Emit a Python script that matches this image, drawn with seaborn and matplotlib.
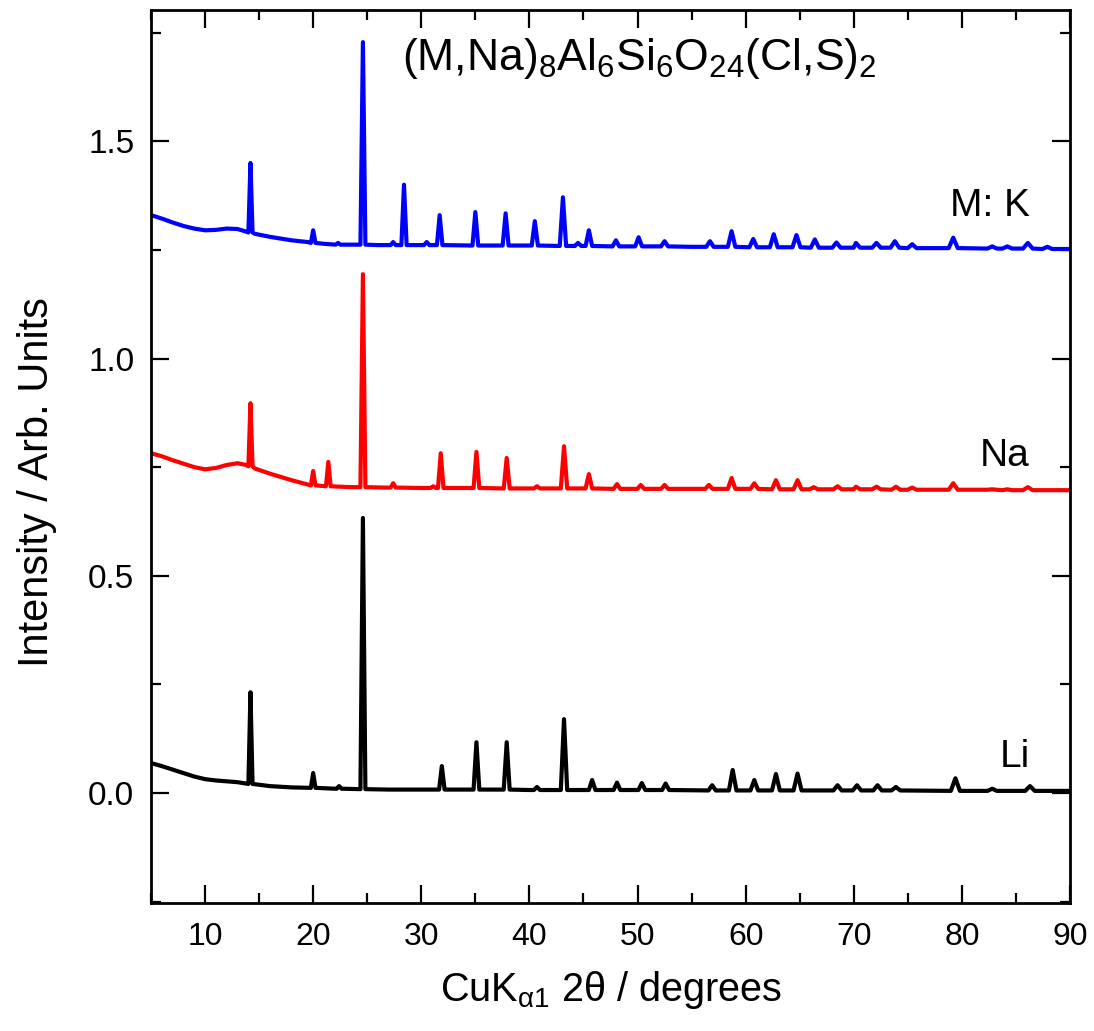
import matplotlib
matplotlib.use("Agg")
import matplotlib.pyplot as plt
import seaborn as sns
import pandas as pd
from matplotlib.ticker import MultipleLocator, FormatStrFormatter

# ---------------- data ----------------
samples = ["M: K", "Na", "Li"]
colors = {"M: K": "#0000FF", "Na": "#FF0000", "Li": "#000000"}

# broad background of each pattern (2theta, intensity)
k_base_x = [5, 6, 7, 8, 9, 10, 11, 12, 13, 13.8, 14.6, 16, 18, 19.5, 21, 23, 26, 30, 40, 55, 70, 80, 90]
k_base_y = [1.330, 1.322, 1.313, 1.305, 1.299, 1.295, 1.296, 1.299, 1.298, 1.292, 1.287, 1.280,
            1.272, 1.268, 1.264, 1.262, 1.261, 1.261, 1.260, 1.257, 1.255, 1.254, 1.252]
na_base_x = [5, 6, 7, 8, 9, 10, 11, 12, 13, 13.8, 14.6, 16, 18, 19.5, 22.5, 23.5, 26.5, 30, 40, 55, 70, 80, 90]
na_base_y = [0.782, 0.775, 0.766, 0.758, 0.750, 0.745, 0.748, 0.755, 0.759, 0.755, 0.747, 0.735,
             0.720, 0.710, 0.705, 0.704, 0.703, 0.702, 0.701, 0.700, 0.699, 0.698, 0.697]
li_base_x = [5, 6, 7, 8, 9, 10, 11, 12, 13, 16, 18, 22, 27, 30, 40, 50, 60, 69.5, 80, 90]
li_base_y = [0.069, 0.062, 0.054, 0.046, 0.038, 0.032, 0.029, 0.027, 0.025, 0.016, 0.013, 0.010,
             0.008, 0.008, 0.007, 0.007, 0.006, 0.006, 0.005, 0.005]

# Bragg peaks: position, apex intensity, local background at the foot
k_peak_pos = [14.2, 20.0, 22.3, 24.6, 27.4, 28.4, 30.5, 31.7, 35.0, 37.8, 40.5, 43.1, 44.5, 45.5,
              48.0, 50.1, 52.5, 56.7, 58.7, 60.7, 62.6, 64.7, 66.4, 68.4, 70.2, 72.1, 73.8, 75.4,
              79.2, 82.8, 84.2, 86.1, 87.9]
k_peak_top = [1.450, 1.295, 1.266, 1.728, 1.268, 1.400, 1.268, 1.330, 1.337, 1.334, 1.316, 1.371,
              1.266, 1.295, 1.272, 1.279, 1.270, 1.270, 1.293, 1.275, 1.286, 1.284, 1.274, 1.267,
              1.266, 1.266, 1.270, 1.263, 1.278, 1.258, 1.258, 1.266, 1.257]
k_peak_foot = [1.290, 1.266, 1.262, 1.262, 1.261, 1.261, 1.261, 1.261, 1.260, 1.260, 1.260, 1.259,
               1.259, 1.259, 1.258, 1.258, 1.258, 1.257, 1.257, 1.256, 1.256, 1.256, 1.255, 1.255,
               1.255, 1.255, 1.255, 1.254, 1.254, 1.253, 1.253, 1.253, 1.252]

na_peak_pos = [14.2, 20.0, 21.4, 24.6, 27.4, 31.1, 31.8, 35.1, 37.9, 40.7, 43.2, 45.5, 48.1, 50.3,
               52.5, 56.6, 58.7, 60.8, 62.8, 64.8, 66.3, 68.5, 70.2, 72.1, 73.9, 75.4, 79.2, 82.8,
               84.2, 86.1]
na_peak_top = [0.897, 0.741, 0.762, 1.194, 0.713, 0.706, 0.782, 0.785, 0.771, 0.706, 0.798, 0.734,
               0.711, 0.709, 0.709, 0.709, 0.725, 0.713, 0.720, 0.720, 0.704, 0.706, 0.705, 0.705,
               0.705, 0.703, 0.713, 0.699, 0.699, 0.704]
na_peak_foot = [0.752, 0.708, 0.706, 0.704, 0.703, 0.702, 0.702, 0.702, 0.701, 0.701, 0.701, 0.701,
                0.700, 0.700, 0.700, 0.700, 0.700, 0.700, 0.699, 0.699, 0.699, 0.699, 0.699, 0.699,
                0.698, 0.698, 0.698, 0.698, 0.697, 0.697]

li_peak_pos = [14.2, 20.0, 22.4, 24.6, 31.9, 35.1, 37.9, 40.7, 43.2, 45.8, 48.1, 50.4, 52.6, 56.9,
               58.8, 60.8, 62.8, 64.8, 68.5, 70.3, 72.2, 73.9, 79.4, 82.8, 86.3]
li_peak_top = [0.232, 0.046, 0.016, 0.633, 0.062, 0.117, 0.117, 0.014, 0.170, 0.030, 0.024, 0.023,
               0.022, 0.018, 0.053, 0.030, 0.044, 0.045, 0.018, 0.018, 0.018, 0.014, 0.034, 0.010,
               0.016]
li_peak_foot = [0.021, 0.012, 0.010, 0.009, 0.008, 0.008, 0.008, 0.007, 0.007, 0.007, 0.007, 0.007,
                0.007, 0.006, 0.006, 0.006, 0.006, 0.006, 0.006, 0.006, 0.006, 0.006, 0.005, 0.005,
                0.005]

title_text = r"(M,Na)$_8$Al$_6$Si$_6$O$_{24}$(Cl,S)$_2$"
x_label = r"CuK$_{\mathrm{\alpha 1}}$ 2θ / degrees"
y_label = "Intensity / Arb. Units"


def pattern(name, bx, by, ppos, ptop, pfoot):
    pts = list(zip(bx, by))
    for p, t, f in zip(ppos, ptop, pfoot):
        w = 0.16 + 0.0035 * (p - 5)  # drawn peak half-width (style)
        pts += [(p - w, f), (p, t), (p + w, f)]
    pts.sort()
    return pd.DataFrame({"two_theta": [a for a, _ in pts],
                         "intensity": [b for _, b in pts],
                         "sample": name})


df = pd.concat([
    pattern("M: K", k_base_x, k_base_y, k_peak_pos, k_peak_top, k_peak_foot),
    pattern("Na", na_base_x, na_base_y, na_peak_pos, na_peak_top, na_peak_foot),
    pattern("Li", li_base_x, li_base_y, li_peak_pos, li_peak_top, li_peak_foot),
], ignore_index=True)

# ---------------- style ----------------
sns.set_theme(style="ticks")
plt.rcParams["font.family"] = ["Liberation Sans", "DejaVu Sans"]
plt.rcParams["mathtext.fontset"] = "custom"
plt.rcParams["mathtext.rm"] = "Liberation Sans"
plt.rcParams["mathtext.it"] = "Liberation Sans:italic"
plt.rcParams["mathtext.cal"] = "Liberation Sans"
for key in ["text.color", "axes.labelcolor", "xtick.color", "ytick.color", "axes.edgecolor"]:
    plt.rcParams[key] = "black"

fig = plt.figure(figsize=(10.94, 10.31), dpi=100)
ax = fig.add_axes([151 / 1094, 1 - 903 / 1031, (1070 - 151) / 1094, (903 - 10) / 1031])

sns.lineplot(data=df, x="two_theta", y="intensity", hue="sample", palette=colors,
             estimator=None, sort=False, linewidth=3.0, legend=False, ax=ax)

ax.set_xlim(5, 90)
ax.set_ylim(-0.253, 1.802)
ax.xaxis.set_major_locator(MultipleLocator(10))
ax.xaxis.set_minor_locator(MultipleLocator(5))
ax.yaxis.set_major_locator(MultipleLocator(0.5))
ax.yaxis.set_minor_locator(MultipleLocator(0.25))
ax.yaxis.set_major_formatter(FormatStrFormatter("%.1f"))

ax.tick_params(which="both", direction="in", top=True, right=True, colors="black")
ax.tick_params(which="major", length=13, width=1.6, labelsize=23)
ax.tick_params(axis="y", which="major", labelsize=24)
ax.tick_params(which="minor", length=7, width=1.6)
ax.tick_params(axis="x", which="major", pad=14)
ax.tick_params(axis="y", which="major", pad=12)
for s in ax.spines.values():
    s.set_linewidth(2.0)
    s.set_color("black")

ax.set_xlabel(x_label, fontsize=28.5, labelpad=12)
ax.set_ylabel(y_label, fontsize=30)
ax.yaxis.set_label_coords(-0.102, 0.471)

ax.text(50.2, 1.69, title_text, fontsize=32, ha="center", va="center")
label_pos = {"M: K": 1.352, "Na": 0.775, "Li": 0.083}
for name in samples:
    ax.text(86.3, label_pos[name], name, fontsize=28, ha="right", va="center")

fig.savefig("out.png", dpi=100, facecolor="white")
